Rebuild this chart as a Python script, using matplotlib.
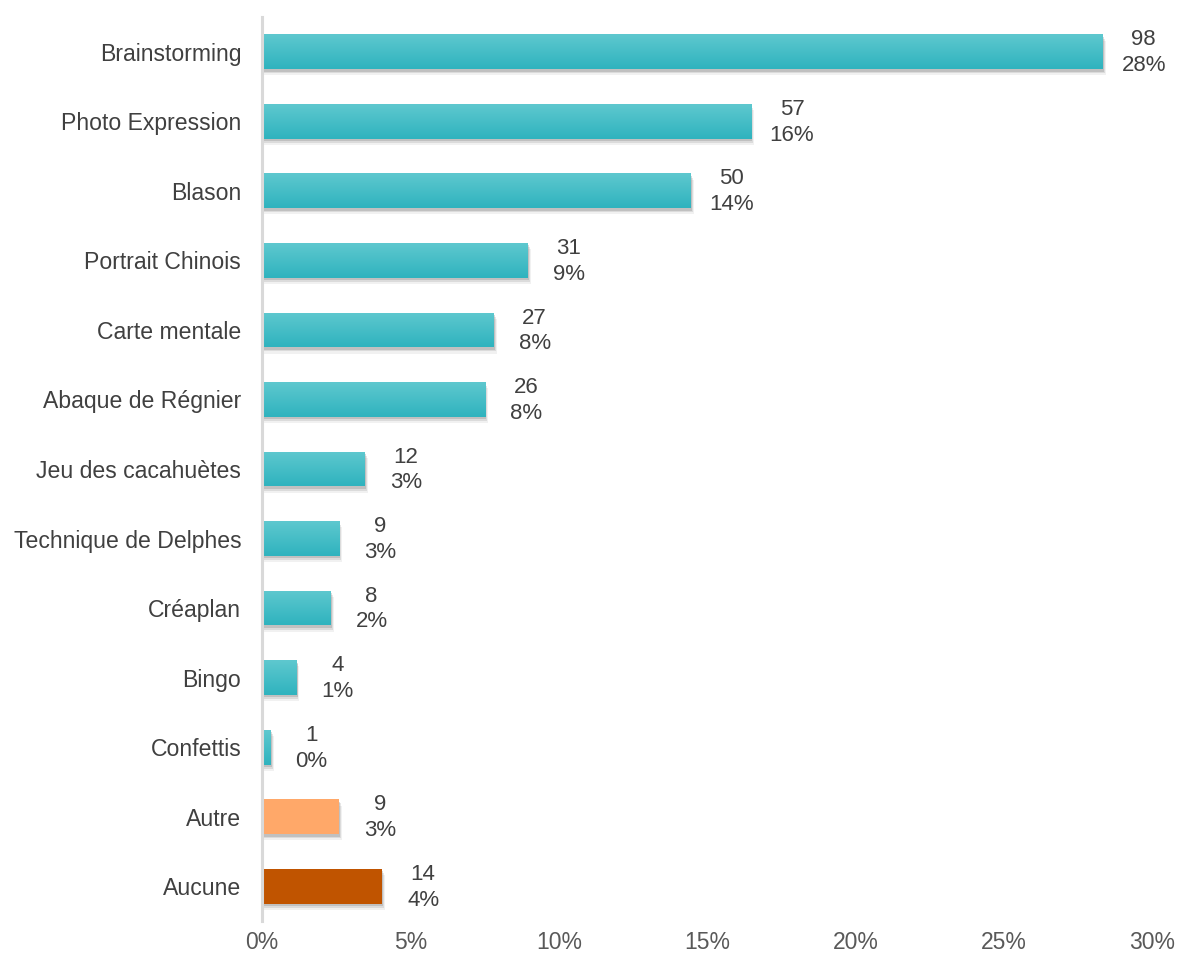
import numpy as np
import matplotlib
matplotlib.use("Agg")
from matplotlib import pyplot as plt
from matplotlib.colors import LinearSegmentedColormap
from matplotlib.patches import Rectangle

plt.rcParams['font.family'] = ['Liberation Sans', 'DejaVu Sans']

# méthodes utilisées et nombre de réponses
methodes = ["Brainstorming", "Photo Expression", "Blason", "Portrait Chinois",
            "Carte mentale", "Abaque de Régnier", "Jeu des cacahuètes",
            "Technique de Delphes", "Créaplan", "Bingo", "Confettis",
            "Autre", "Aucune"]
reponses = [98, 57, 50, 31, 27, 26, 12, 9, 8, 4, 1, 9, 14]
total = sum(reponses)
pourcentages = [r / total * 100 for r in reponses]

teinte_haut = "#5EC8CF"
teinte_bas = "#2FB3BE"
couleurs_pleines = {"Autre": "#FFA869", "Aucune": "#C05400"}

xticks = [0, 5, 10, 15, 20, 25, 30]

fig = plt.figure(figsize=(11.8, 9.59), dpi=100)
ax = fig.add_axes([0.222, 0.0396, 0.7547, 0.9427])

n = len(methodes)
ax.set_xlim(0, 30)
ax.set_ylim(n - 0.5, -0.5)
hauteur = 0.5

degrade = LinearSegmentedColormap.from_list("barre", [teinte_haut, teinte_bas])
grad = np.linspace(0, 1, 64).reshape(-1, 1)

for i, (nom, p, r) in enumerate(zip(methodes, pourcentages, reponses)):
    y0 = i - hauteur / 2
    # ombre portée sous la barre
    for k, a in [(0.09, 0.10), (0.06, 0.18), (0.035, 0.28)]:
        ombre = Rectangle((0, y0 + k), p + k * 1.2, hauteur, facecolor="#7a7a7a",
                          edgecolor="none", alpha=a, zorder=1)
        ax.add_patch(ombre)
    barre = Rectangle((0, y0), p, hauteur, facecolor=couleurs_pleines.get(nom, teinte_bas),
                      edgecolor="none", zorder=2)
    ax.add_patch(barre)
    if nom not in couleurs_pleines:
        im = ax.imshow(grad, cmap=degrade, aspect="auto", extent=(0, p, y0 + hauteur, y0),
                       zorder=3, interpolation="bilinear")
        im.set_clip_path(barre)
    ax.annotate(f"{r}\n{round(p):.0f}%", xy=(p, i), xytext=(41, -1),
                textcoords="offset pixels", ha="center", va="center",
                fontsize=16, color="#404040", linespacing=1.3)

ax.set_yticks(range(n))
ax.set_yticklabels(methodes, fontsize=16.6, color="#404040")
ax.set_xticks(xticks)
ax.set_xticklabels([f"{t}%" for t in xticks], fontsize=16.5, color="#595959")
ax.tick_params(axis="both", length=0)
ax.tick_params(axis="y", pad=15)
ax.tick_params(axis="x", pad=7)

for cote in ["top", "right", "bottom"]:
    ax.spines[cote].set_visible(False)
ax.spines["left"].set_color("#D9D9D9")
ax.spines["left"].set_linewidth(2.2)
ax.spines["left"].set_zorder(5)

fig.savefig("out.png", dpi=100)
